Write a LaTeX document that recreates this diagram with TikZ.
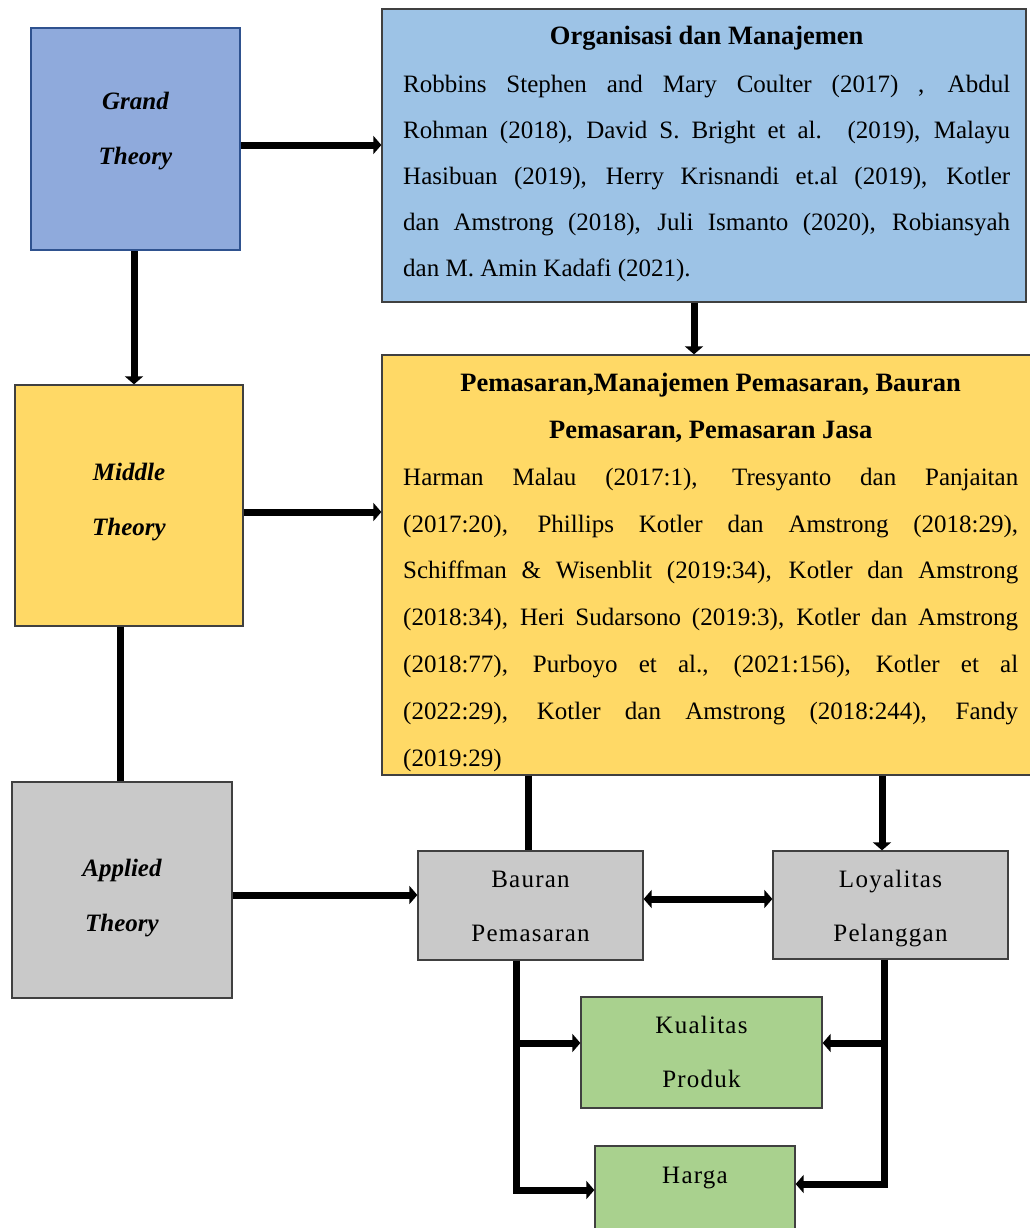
\documentclass[tikz,border=0pt]{standalone}
\usepackage{fontspec}
\setmainfont{Liberation Serif}
\usetikzlibrary{arrows.meta}
\definecolor{gtblue}{HTML}{8FAADC}
\definecolor{gtborder}{HTML}{2F528F}
\definecolor{orgblue}{HTML}{9DC3E6}
\definecolor{ylw}{HTML}{FFD966}
\definecolor{gry}{HTML}{C9C9C9}
\definecolor{grn}{HTML}{A9D18E}
\definecolor{edgegray}{HTML}{404040}
\newcommand\twolines[3]{\raisebox{#1}[\height][\depth]{\begin{tabular}{@{}c@{}}#2\\#3\end{tabular}}}
\newcommand\boxtitle[1]{\makebox[\linewidth][c]{\fontsize{26.5}{46}\selectfont\bfseries #1}}
\begin{document}
\begin{tikzpicture}[x=1pt,y=-1pt,
  box/.style={draw=edgegray, line width=1.3pt, rectangle, inner sep=0pt, align=center},
  theory/.style={box, font=\fontsize{25}{55}\selectfont\bfseries\itshape},
  smallbox/.style={box, font=\fontsize{25}{54}\selectfont\addfontfeature{LetterSpace=5}},
  bodytext/.style={anchor=north west, inner sep=0pt, text width=#1, align=justify},
  conn/.style={line width=7pt},
  arr/.style={conn, -{Triangle[length=8pt,width=18pt]}},
  darr/.style={conn, {Triangle[length=8pt,width=18pt]}-{Triangle[length=8pt,width=18pt]}}
]
\useasboundingbox (0,0) rectangle (1030,1228);
\clip (0,0) rectangle (1030,1228);

% boxes
\node[theory, fill=gtblue, draw=gtborder, line width=2pt, minimum width=209pt, minimum height=222pt] (gt) at (135.5,139) {\twolines{13pt}{Grand}{Theory}};
\node[box, fill=orgblue, minimum width=644pt, minimum height=293pt] (org) at (704,155.5) {};
\node[theory, fill=ylw, minimum width=228pt, minimum height=241pt] (mid) at (129,505.5) {\twolines{9pt}{Middle}{Theory}};
\node[box, fill=ylw, minimum width=652pt, minimum height=420pt] (pm) at (708,565) {};
\node[theory, fill=gry, minimum width=220pt, minimum height=216pt] (app) at (122,890) {\twolines{-3pt}{Applied}{Theory}};
\node[smallbox, fill=gry, minimum width=225pt, minimum height=109pt] (bm) at (530.5,905.5) {\twolines{2pt}{Bauran}{Pemasaran}};
\node[smallbox, fill=gry, minimum width=235pt, minimum height=108pt] (loy) at (890.5,905) {\twolines{1pt}{Loyalitas}{Pelanggan}};
\node[smallbox, fill=grn, minimum width=241pt, minimum height=111pt] (kp) at (701.5,1052.5) {\twolines{3pt}{Kualitas}{Produk}};
\node[smallbox, fill=grn, minimum width=200pt, minimum height=112pt] (hg) at (695,1202) {\twolines{2pt}{Harga}{\strut}};

% texts of the big boxes
\node[bodytext=607pt, font=\fontsize{25}{46}\selectfont] (orgtxt) at (403,24.5) {%
\rule{0pt}{20pt}\boxtitle{Organisasi dan Manajemen}\\[2pt]
\makebox[\linewidth][s]{Robbins Stephen and Mary Coulter (2017) , Abdul}\\
\makebox[\linewidth][s]{Rohman (2018), David S. Bright et al. (2019), Malayu}\\
\makebox[\linewidth][s]{Hasibuan (2019), Herry Krisnandi et.al (2019), Kotler}\\
\makebox[\linewidth][s]{dan Amstrong (2018), Juli Ismanto (2020), Robiansyah}\\
dan M. Amin Kadafi (2021).};

\node[bodytext=615pt, font=\fontsize{25}{46.8}\selectfont] (pmtxt) at (403,371.5) {%
\rule{0pt}{20pt}\boxtitle{Pemasaran,Manajemen Pemasaran, Bauran}\\
\boxtitle{Pemasaran, Pemasaran Jasa}\\
\makebox[\linewidth][s]{Harman Malau (2017:1), Tresyanto dan Panjaitan}\\
\makebox[\linewidth][s]{(2017:20), Phillips Kotler dan Amstrong (2018:29),}\\
\makebox[\linewidth][s]{Schiffman \& Wisenblit (2019:34), Kotler dan Amstrong}\\
\makebox[\linewidth][s]{(2018:34), Heri Sudarsono (2019:3), Kotler dan Amstrong}\\
\makebox[\linewidth][s]{(2018:77), Purboyo et al., (2021:156), Kotler et al}\\
\makebox[\linewidth][s]{(2022:29), Kotler dan Amstrong (2018:244), Fandy}\\
(2019:29)};

% connectors
\draw[arr] ([yshift=-6pt]gt.east) -- ([yshift=-6pt]gt.east -| org.west);
\draw[arr] ([xshift=-1.5pt]gt.south) -- ([xshift=-1.5pt]gt.south |- mid.north);
\draw[arr] ([xshift=-10pt]org.south) -- ([xshift=-10pt]org.south |- pm.north);
\draw[arr] ([yshift=-6.5pt]mid.east) -- ([yshift=-6.5pt]mid.east -| pm.west);
\draw[conn] ([xshift=-2pt]app.north |- mid.south) -- ([xshift=-2pt]app.north);
\draw[arr] ([yshift=-5pt]app.east) -- ([yshift=-5pt]app.east -| bm.west);
\draw[conn] ([xshift=-2.5pt]bm.north |- pm.south) -- ([xshift=-2.5pt]bm.north);
\draw[arr] ([xshift=-8.5pt]loy.north |- pm.south) -- ([xshift=-8.5pt]loy.north);
\draw[darr] ([yshift=6.5pt]bm.east) -- ([yshift=6.5pt]bm.east -| loy.west);

\coordinate (bl) at ([xshift=-14.5pt]bm.south);
\coordinate (br) at ([xshift=-6.5pt]loy.south);
\coordinate (kl) at ([yshift=9.5pt]kp.west);
\coordinate (kr) at ([yshift=9.5pt]kp.east);
\coordinate (hl) at ([yshift=12pt]hg.west);
\coordinate (hr) at ([yshift=18pt]hg.east);
\draw[arr] (bl) |- (hl);
\draw[arr] (bl |- kl) -- (kl);
\draw[arr] (br) |- (hr);
\draw[arr] (br |- kr) -- (kr);
\end{tikzpicture}
\end{document}
